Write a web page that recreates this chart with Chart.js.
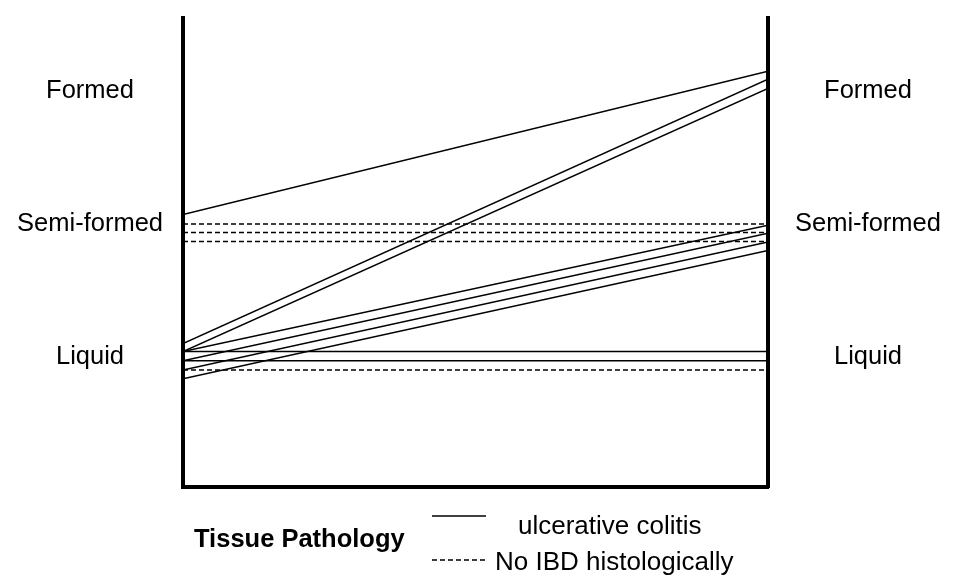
<!DOCTYPE html>
<html>
<head>
<meta charset="utf-8">
<script src="https://cdn.jsdelivr.net/npm/chart.js@4.4.0/dist/chart.umd.min.js"></script>
<style>
  body { margin: 0; background: #fff; }
  canvas { display: block; }
</style>
</head>
<body>
<canvas id="stoolChart" width="956" height="581"></canvas>
<script>
// Stool consistency scores: 1 = Liquid, 2 = Semi-formed, 3 = Formed (jittered)
const stoolLabels = ["Liquid", "Semi-formed", "Formed"];
const stoolValues = [1, 2, 3];
const timepoints = [0, 1];

// ulcerative colitis, before -> after
const ucBefore = [2.07, 1.10, 1.04, 1.04, 0.97, 0.90, 0.835, 1.04, 0.97];
const ucAfter = [3.15, 3.09, 3.02, 1.99, 1.93, 1.865, 1.80, 1.04, 0.97];

// No IBD histologically, before -> after
const noIbdBefore = [2.0, 1.935, 1.867, 0.90];
const noIbdAfter = [2.0, 1.935, 1.867, 0.90];

const legendTitle = "Tissue Pathology";
const groupNames = ["ulcerative colitis", "No IBD histologically"];

const FONT = '"Liberation Sans", Arial, Helvetica, sans-serif';

function makeLine(before, after, dashed) {
  return {
    data: [
      { x: timepoints[0], y: before },
      { x: timepoints[1], y: after },
    ],
    borderColor: "#000",
    borderWidth: 1.5,
    borderDash: dashed ? [5, 3] : [],
    pointRadius: 0,
    fill: false,
    tension: 0,
  };
}

const datasets = [];
ucBefore.forEach((v, i) => datasets.push(makeLine(v, ucAfter[i], false)));
noIbdBefore.forEach((v, i) => datasets.push(makeLine(v, noIbdAfter[i], true)));

// legend: bold title on the left, two stacked line samples
const legendPlugin = {
  id: "pathologyLegend",
  afterDraw(chart) {
    const ctx = chart.ctx;
    ctx.save();
    ctx.fillStyle = "#000";
    ctx.textBaseline = "alphabetic";
    ctx.font = "bold 25.5px " + FONT;
    ctx.fillText(legendTitle, 194, 547);

    ctx.strokeStyle = "#000";
    ctx.lineWidth = 1.5;
    ctx.beginPath();
    ctx.moveTo(432, 516);
    ctx.lineTo(486, 516);
    ctx.stroke();

    ctx.setLineDash([5, 3]);
    ctx.beginPath();
    ctx.moveTo(432, 560);
    ctx.lineTo(486, 560);
    ctx.stroke();
    ctx.setLineDash([]);

    ctx.font = "26px " + FONT;
    ctx.fillText(groupNames[0], 518, 534);
    ctx.fillText(groupNames[1], 495, 570);
    ctx.restore();
  },
};

function setTicks(scale) {
  scale.ticks = stoolValues.map((v) => ({ value: v }));
}

function labelFor(value) {
  const i = stoolValues.indexOf(value);
  return i >= 0 ? stoolLabels[i] : "";
}

// fixed axis widths, no extra label padding above/below the plot
function fitSide(width) {
  return (scale) => {
    scale.width = width;
    scale.paddingTop = 0;
    scale.paddingBottom = 0;
  };
}

const ctx = document.getElementById("stoolChart").getContext("2d");
const stoolChart = new Chart(ctx, {
  type: "line",
  data: { datasets: datasets },
  plugins: [legendPlugin],
  options: {
    responsive: false,
    animation: false,
    layout: { padding: { top: 18, left: 0, right: 0, bottom: 0 } },
    plugins: {
      legend: { display: false },
      tooltip: { enabled: false },
    },
    scales: {
      x: {
        type: "linear",
        min: 0,
        max: 1,
        ticks: { display: false },
        grid: { display: false, drawTicks: false },
        border: { display: true, color: "#000", width: 4 },
        afterFit: (scale) => { scale.height = 94; },
      },
      y: {
        type: "linear",
        position: "left",
        min: 0.02,
        max: 3.55,
        afterBuildTicks: setTicks,
        ticks: {
          color: "#000",
          font: { family: FONT, size: 25.5 },
          padding: 20,
          crossAlign: "center",
          callback: labelFor,
        },
        grid: { display: false, drawTicks: false },
        border: { display: true, color: "#000", width: 4 },
        afterFit: fitSide(183),
      },
      y2: {
        type: "linear",
        position: "right",
        min: 0.02,
        max: 3.55,
        afterBuildTicks: setTicks,
        ticks: {
          color: "#000",
          font: { family: FONT, size: 25.5 },
          padding: 27,
          crossAlign: "center",
          callback: labelFor,
        },
        grid: { display: false, drawTicks: false },
        border: { display: true, color: "#000", width: 4 },
        afterFit: fitSide(188),
      },
    },
  },
});
</script>
</body>
</html>
